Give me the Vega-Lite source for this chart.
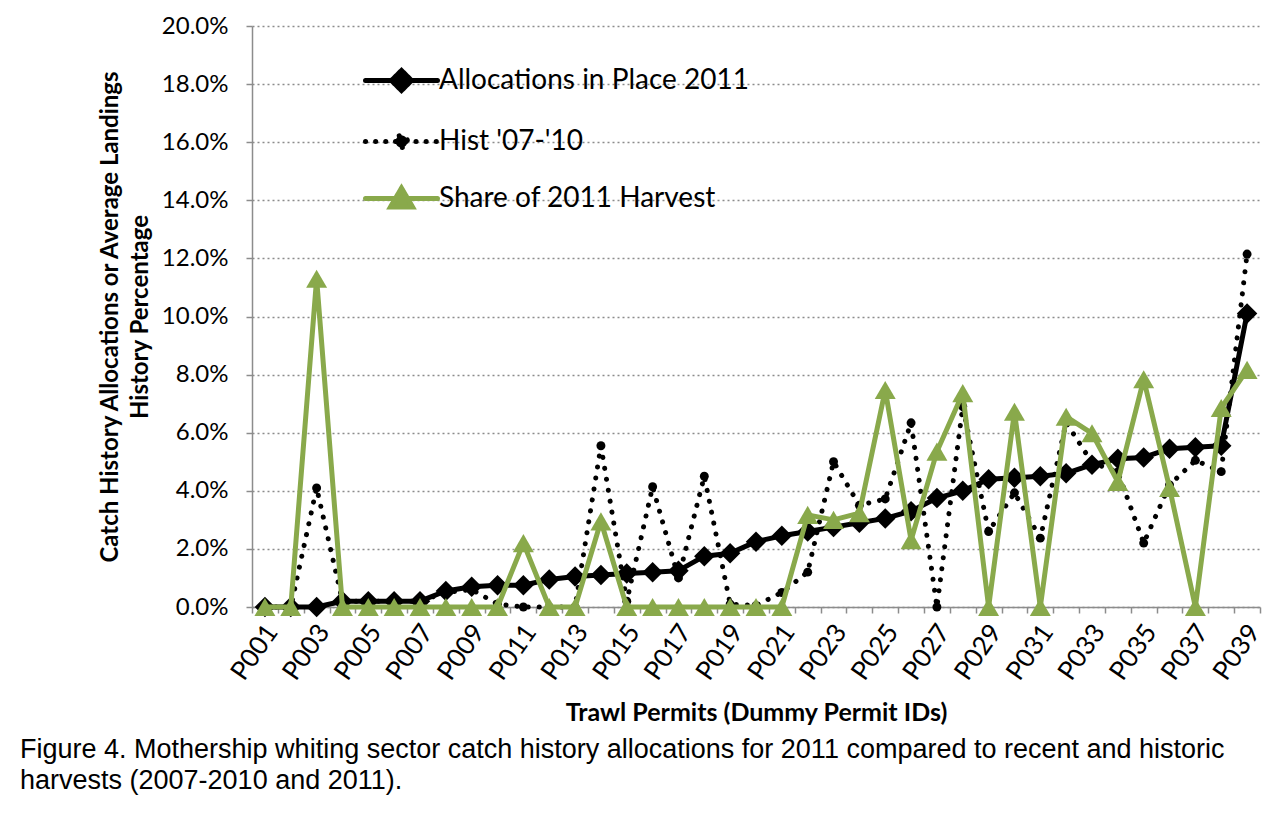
{
  "$schema": "https://vega.github.io/schema/vega-lite/v6.json",
  "width": 1008,
  "height": 581,
  "autosize": {"type": "none"},
  "padding": {"left": 252, "top": 26, "right": 15, "bottom": 209},
  "background": "white",
  "config": {
    "view": {"stroke": null},
    "font": "Lato",
    "axisX": {
      "domainColor": "#8c8c8c", "domainWidth": 1.5, "tickColor": "#8c8c8c", "tickSize": 6, "tickWidth": 1.5,
      "tickBand": "extent", "labelAngle": -55, "labelFontSize": 26, "labelFont": "Lato", "labelColor": "black",
      "labelPadding": 14, "labelOffset": 7, "labelOverlap": false, "titleFont": "Lato", "titleFontSize": 25, "titleFontWeight": "bold",
      "titleColor": "black", "titlePadding": 16, "grid": false
    },
    "axisY": {
      "domainColor": "#8c8c8c", "domainWidth": 1.5, "tickColor": "#8c8c8c", "tickSize": 6, "tickWidth": 1.5,
      "grid": true, "gridDash": [2, 3], "gridColor": "#8c8c8c", "gridWidth": 1.5,
      "labelFontSize": 24, "labelFont": "Lato", "labelColor": "black", "labelPadding": 18,
      "titleFont": "Lato", "titleFontSize": 24, "titleFontWeight": "bold", "titleColor": "black", "titlePadding": 9,
      "titleLineHeight": 30
    }
  },
  "title": {
    "text": ["Figure 4.  Mothership whiting sector catch history allocations for 2011 compared to recent and historic", "harvests (2007-2010 and 2011)."],
    "orient": "bottom", "anchor": "start", "frame": "group", "font": "Liberation Sans", "fontSize": 27,
    "fontWeight": "normal", "color": "black", "dx": -232, "offset": 12, "lineHeight": 31
  },
  "data": {"values": [
    {"permit": "P001", "series": "Allocations in Place 2011", "value": 0},
    {"permit": "P002", "series": "Allocations in Place 2011", "value": 0},
    {"permit": "P003", "series": "Allocations in Place 2011", "value": 0},
    {"permit": "P004", "series": "Allocations in Place 2011", "value": 0.2},
    {"permit": "P005", "series": "Allocations in Place 2011", "value": 0.2},
    {"permit": "P006", "series": "Allocations in Place 2011", "value": 0.2},
    {"permit": "P007", "series": "Allocations in Place 2011", "value": 0.2},
    {"permit": "P008", "series": "Allocations in Place 2011", "value": 0.55},
    {"permit": "P009", "series": "Allocations in Place 2011", "value": 0.7},
    {"permit": "P010", "series": "Allocations in Place 2011", "value": 0.75},
    {"permit": "P011", "series": "Allocations in Place 2011", "value": 0.75},
    {"permit": "P012", "series": "Allocations in Place 2011", "value": 0.95},
    {"permit": "P013", "series": "Allocations in Place 2011", "value": 1.05},
    {"permit": "P014", "series": "Allocations in Place 2011", "value": 1.1},
    {"permit": "P015", "series": "Allocations in Place 2011", "value": 1.15},
    {"permit": "P016", "series": "Allocations in Place 2011", "value": 1.2},
    {"permit": "P017", "series": "Allocations in Place 2011", "value": 1.25},
    {"permit": "P018", "series": "Allocations in Place 2011", "value": 1.75},
    {"permit": "P019", "series": "Allocations in Place 2011", "value": 1.85},
    {"permit": "P020", "series": "Allocations in Place 2011", "value": 2.25},
    {"permit": "P021", "series": "Allocations in Place 2011", "value": 2.45},
    {"permit": "P022", "series": "Allocations in Place 2011", "value": 2.6},
    {"permit": "P023", "series": "Allocations in Place 2011", "value": 2.75},
    {"permit": "P024", "series": "Allocations in Place 2011", "value": 2.9},
    {"permit": "P025", "series": "Allocations in Place 2011", "value": 3.05},
    {"permit": "P026", "series": "Allocations in Place 2011", "value": 3.3},
    {"permit": "P027", "series": "Allocations in Place 2011", "value": 3.75},
    {"permit": "P028", "series": "Allocations in Place 2011", "value": 4.0},
    {"permit": "P029", "series": "Allocations in Place 2011", "value": 4.4},
    {"permit": "P030", "series": "Allocations in Place 2011", "value": 4.45},
    {"permit": "P031", "series": "Allocations in Place 2011", "value": 4.5},
    {"permit": "P032", "series": "Allocations in Place 2011", "value": 4.6},
    {"permit": "P033", "series": "Allocations in Place 2011", "value": 4.9},
    {"permit": "P034", "series": "Allocations in Place 2011", "value": 5.1},
    {"permit": "P035", "series": "Allocations in Place 2011", "value": 5.15},
    {"permit": "P036", "series": "Allocations in Place 2011", "value": 5.45},
    {"permit": "P037", "series": "Allocations in Place 2011", "value": 5.5},
    {"permit": "P038", "series": "Allocations in Place 2011", "value": 5.55},
    {"permit": "P039", "series": "Allocations in Place 2011", "value": 10.1},
    {"permit": "P001", "series": "Hist '07-'10", "value": 0},
    {"permit": "P002", "series": "Hist '07-'10", "value": 0},
    {"permit": "P003", "series": "Hist '07-'10", "value": 4.1},
    {"permit": "P004", "series": "Hist '07-'10", "value": 0.2},
    {"permit": "P005", "series": "Hist '07-'10", "value": 0.2},
    {"permit": "P006", "series": "Hist '07-'10", "value": 0.2},
    {"permit": "P007", "series": "Hist '07-'10", "value": 0.2},
    {"permit": "P008", "series": "Hist '07-'10", "value": 0.5},
    {"permit": "P009", "series": "Hist '07-'10", "value": 0.6},
    {"permit": "P010", "series": "Hist '07-'10", "value": 0.1},
    {"permit": "P011", "series": "Hist '07-'10", "value": 0},
    {"permit": "P012", "series": "Hist '07-'10", "value": 0},
    {"permit": "P013", "series": "Hist '07-'10", "value": 0},
    {"permit": "P014", "series": "Hist '07-'10", "value": 5.55},
    {"permit": "P015", "series": "Hist '07-'10", "value": 0.2},
    {"permit": "P016", "series": "Hist '07-'10", "value": 4.14},
    {"permit": "P017", "series": "Hist '07-'10", "value": 1.0},
    {"permit": "P018", "series": "Hist '07-'10", "value": 4.5},
    {"permit": "P019", "series": "Hist '07-'10", "value": 0.1},
    {"permit": "P020", "series": "Hist '07-'10", "value": 0.05},
    {"permit": "P021", "series": "Hist '07-'10", "value": 0.5},
    {"permit": "P022", "series": "Hist '07-'10", "value": 1.2},
    {"permit": "P023", "series": "Hist '07-'10", "value": 5.0},
    {"permit": "P024", "series": "Hist '07-'10", "value": 3.5},
    {"permit": "P025", "series": "Hist '07-'10", "value": 3.72},
    {"permit": "P026", "series": "Hist '07-'10", "value": 6.34},
    {"permit": "P027", "series": "Hist '07-'10", "value": 0},
    {"permit": "P028", "series": "Hist '07-'10", "value": 6.9},
    {"permit": "P029", "series": "Hist '07-'10", "value": 2.6},
    {"permit": "P030", "series": "Hist '07-'10", "value": 3.93},
    {"permit": "P031", "series": "Hist '07-'10", "value": 2.37},
    {"permit": "P032", "series": "Hist '07-'10", "value": 6.35},
    {"permit": "P033", "series": "Hist '07-'10", "value": 4.97},
    {"permit": "P034", "series": "Hist '07-'10", "value": 4.65},
    {"permit": "P035", "series": "Hist '07-'10", "value": 2.2},
    {"permit": "P036", "series": "Hist '07-'10", "value": 4.2},
    {"permit": "P037", "series": "Hist '07-'10", "value": 5.05},
    {"permit": "P038", "series": "Hist '07-'10", "value": 4.66},
    {"permit": "P039", "series": "Hist '07-'10", "value": 12.15},
    {"permit": "P001", "series": "Share of 2011 Harvest", "value": 0},
    {"permit": "P002", "series": "Share of 2011 Harvest", "value": 0},
    {"permit": "P003", "series": "Share of 2011 Harvest", "value": 11.3},
    {"permit": "P004", "series": "Share of 2011 Harvest", "value": 0},
    {"permit": "P005", "series": "Share of 2011 Harvest", "value": 0},
    {"permit": "P006", "series": "Share of 2011 Harvest", "value": 0},
    {"permit": "P007", "series": "Share of 2011 Harvest", "value": 0},
    {"permit": "P008", "series": "Share of 2011 Harvest", "value": 0},
    {"permit": "P009", "series": "Share of 2011 Harvest", "value": 0},
    {"permit": "P010", "series": "Share of 2011 Harvest", "value": 0},
    {"permit": "P011", "series": "Share of 2011 Harvest", "value": 2.2},
    {"permit": "P012", "series": "Share of 2011 Harvest", "value": 0},
    {"permit": "P013", "series": "Share of 2011 Harvest", "value": 0},
    {"permit": "P014", "series": "Share of 2011 Harvest", "value": 2.95},
    {"permit": "P015", "series": "Share of 2011 Harvest", "value": 0},
    {"permit": "P016", "series": "Share of 2011 Harvest", "value": 0},
    {"permit": "P017", "series": "Share of 2011 Harvest", "value": 0},
    {"permit": "P018", "series": "Share of 2011 Harvest", "value": 0},
    {"permit": "P019", "series": "Share of 2011 Harvest", "value": 0},
    {"permit": "P020", "series": "Share of 2011 Harvest", "value": 0},
    {"permit": "P021", "series": "Share of 2011 Harvest", "value": 0},
    {"permit": "P022", "series": "Share of 2011 Harvest", "value": 3.17},
    {"permit": "P023", "series": "Share of 2011 Harvest", "value": 3.0},
    {"permit": "P024", "series": "Share of 2011 Harvest", "value": 3.23},
    {"permit": "P025", "series": "Share of 2011 Harvest", "value": 7.47},
    {"permit": "P026", "series": "Share of 2011 Harvest", "value": 2.3},
    {"permit": "P027", "series": "Share of 2011 Harvest", "value": 5.35},
    {"permit": "P028", "series": "Share of 2011 Harvest", "value": 7.36},
    {"permit": "P029", "series": "Share of 2011 Harvest", "value": 0},
    {"permit": "P030", "series": "Share of 2011 Harvest", "value": 6.72},
    {"permit": "P031", "series": "Share of 2011 Harvest", "value": 0},
    {"permit": "P032", "series": "Share of 2011 Harvest", "value": 6.55},
    {"permit": "P033", "series": "Share of 2011 Harvest", "value": 5.98},
    {"permit": "P034", "series": "Share of 2011 Harvest", "value": 4.31},
    {"permit": "P035", "series": "Share of 2011 Harvest", "value": 7.84},
    {"permit": "P036", "series": "Share of 2011 Harvest", "value": 4.1},
    {"permit": "P037", "series": "Share of 2011 Harvest", "value": 0},
    {"permit": "P038", "series": "Share of 2011 Harvest", "value": 6.85},
    {"permit": "P039", "series": "Share of 2011 Harvest", "value": 8.16}
  ]},
  "encoding": {
    "x": {
      "field": "permit", "type": "nominal", "sort": null,
      "scale": {"type": "band", "paddingInner": 0, "paddingOuter": 0},
      "axis": {"title": "Trawl Permits (Dummy Permit IDs)", "labelExpr": "parseInt(substring(datum.value, 1)) % 2 == 1 ? datum.value : ''"}
    },
    "y": {
      "field": "value", "type": "quantitative",
      "scale": {"domain": [0, 20], "nice": false, "zero": true},
      "axis": {
        "title": ["Catch History Allocations or Average Landings", "History Percentage"],
        "values": [0, 2, 4, 6, 8, 10, 12, 14, 16, 18, 20],
        "labelExpr": "format(datum.value, '.1f') + '%'"
      }
    },
    "color": {
      "field": "series", "type": "nominal",
      "scale": {"domain": ["Allocations in Place 2011", "Hist '07-'10", "Share of 2011 Harvest"], "range": ["#000000", "#000000", "#89A94B"]},
      "legend": {
        "title": null, "orient": "none", "legendX": 127, "legendY": 32, "padding": 0,
        "labelFont": "Lato", "labelFontSize": 28, "labelColor": "black", "labelOffset": 15, "labelLimit": 0,
        "symbolSize": 1600, "rowPadding": 18, "symbolStrokeWidth": 5,
        "encode": {
          "symbols": {
            "update": {
              "shape": {"signal": "indexof(datum.value, 'Alloc') == 0 ? 'M-1.8,0H1.8M0,-0.5L0.5,0L0,0.5L-0.5,0Z' : indexof(datum.value, 'Share') == 0 ? 'M-1.8,0H1.8M0,-0.52L0.55,0.42L-0.55,0.42Z' : 'M-1.8,0H1.8M-0.3,0A0.3,0.3 0 1,0 0.3,0A0.3,0.3 0 1,0 -0.3,0Z'"},
              "strokeDash": {"signal": "indexof(datum.value, 'Hist') == 0 ? [0.1, 10] : [1, 0]"},
              "fill": {"signal": "indexof(datum.value, 'Share') == 0 ? '#89A94B' : '#000000'"},
              "stroke": {"signal": "indexof(datum.value, 'Share') == 0 ? '#89A94B' : '#000000'"},
              "strokeWidth": {"value": 5},
              "strokeCap": {"value": "round"},
              "size": {"value": 1600},
              "opacity": {"value": 1},
              "fillOpacity": {"value": 1}
            }
          }
        }
      }
    }
  },
  "layer": [
    {"transform": [{"filter": "datum.series == 'Allocations in Place 2011'"}],
     "mark": {"type": "line", "strokeWidth": 5, "strokeJoin": "round"}},
    {"transform": [{"filter": "datum.series == 'Allocations in Place 2011'"}],
     "mark": {"type": "point", "shape": "diamond", "size": 420, "filled": true, "opacity": 1}},
    {"transform": [{"filter": "indexof(datum.series, 'Hist') == 0"}],
     "mark": {"type": "line", "strokeWidth": 5, "strokeDash": [0.1, 11], "strokeCap": "round"}},
    {"transform": [{"filter": "indexof(datum.series, 'Hist') == 0"}],
     "mark": {"type": "point", "shape": "circle", "size": 80, "filled": true, "opacity": 1}},
    {"transform": [{"filter": "datum.series == 'Share of 2011 Harvest'"}],
     "mark": {"type": "line", "strokeWidth": 5, "strokeJoin": "round"}},
    {"transform": [{"filter": "datum.series == 'Share of 2011 Harvest'"}],
     "mark": {"type": "point", "shape": "triangle-up", "size": 440, "filled": true, "opacity": 1}}
  ]
}
